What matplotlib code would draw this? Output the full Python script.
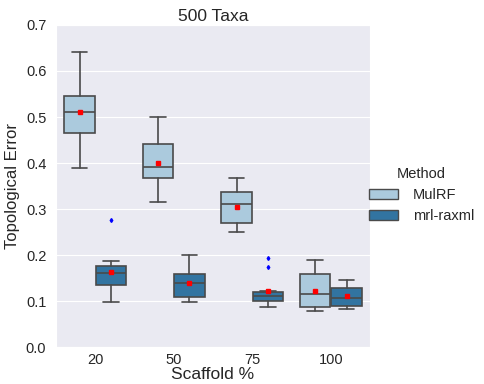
import matplotlib
matplotlib.use('Agg')
import matplotlib.pyplot as plt
import matplotlib.patches as mpatches
import seaborn as sns

# Topological error summary per scaffold level and method
SCAFFOLDS = ['20', '50', '75', '100']
METHODS = ['MulRF', 'mrl-raxml']
COLORS = ['#abcadd', '#3274a1']

# per method: one value per scaffold level
WHISLO = {'MulRF': [0.389, 0.316, 0.250, 0.078], 'mrl-raxml': [0.098, 0.098, 0.088, 0.082]}
Q1 = {'MulRF': [0.465, 0.368, 0.269, 0.088], 'mrl-raxml': [0.135, 0.109, 0.101, 0.090]}
MED = {'MulRF': [0.511, 0.392, 0.310, 0.116], 'mrl-raxml': [0.161, 0.140, 0.111, 0.107]}
Q3 = {'MulRF': [0.546, 0.442, 0.336, 0.159], 'mrl-raxml': [0.177, 0.159, 0.119, 0.129]}
WHISHI = {'MulRF': [0.642, 0.501, 0.368, 0.190], 'mrl-raxml': [0.188, 0.200, 0.121, 0.146]}
MEAN = {'MulRF': [0.511, 0.401, 0.305, 0.123], 'mrl-raxml': [0.164, 0.140, 0.121, 0.112]}
FLIERS = {'MulRF': [[], [], [], []], 'mrl-raxml': [[0.277], [], [0.194, 0.175], []]}

sns.set_style('darkgrid')
plt.rcParams['font.family'] = ['Liberation Sans', 'DejaVu Sans']

fig = plt.figure(figsize=(4.85, 3.84), dpi=100)
ax = fig.add_axes([0.1155, 0.096, 0.6475, 0.839])

edge = '#4a4a4a'
for j, m in enumerate(METHODS):
    stats = []
    for i in range(len(SCAFFOLDS)):
        stats.append({'whislo': WHISLO[m][i], 'q1': Q1[m][i], 'med': MED[m][i],
                      'q3': Q3[m][i], 'whishi': WHISHI[m][i], 'mean': MEAN[m][i],
                      'fliers': FLIERS[m][i]})
    pos = [i - 0.2 + 0.4 * j for i in range(len(SCAFFOLDS))]
    ax.bxp(stats, positions=pos, widths=0.39, patch_artist=True, showmeans=True,
           boxprops=dict(facecolor=COLORS[j], edgecolor=edge, linewidth=1.2),
           medianprops=dict(color=edge, linewidth=1.2),
           whiskerprops=dict(color=edge, linewidth=1.2),
           capprops=dict(color=edge, linewidth=1.2),
           meanprops=dict(marker='s', markerfacecolor='red', markeredgecolor='red', markersize=3),
           flierprops=dict(marker='d', markerfacecolor='blue', markeredgecolor='blue', markersize=2))

ax.set_xlim(-0.5, len(SCAFFOLDS) - 0.5)
ax.set_ylim(0, 0.7)
ax.set_xticks(range(len(SCAFFOLDS)))
ax.set_xticklabels(SCAFFOLDS)
ax.xaxis.grid(False)
ax.tick_params(labelsize=10.5, colors='#262626')
ax.tick_params(axis='x', pad=1)
ax.set_xlabel('Scaffold %', fontsize=12.5, labelpad=0)
ax.set_ylabel('Topological Error', fontsize=12)
ax.set_title('500 Taxa', fontsize=12.5, pad=3)

handles = [mpatches.Patch(facecolor=c, edgecolor=edge, label=m) for c, m in zip(COLORS, METHODS)]
leg = ax.legend(handles=handles, title='Method', loc='center left', bbox_to_anchor=(0.955, 0.472),
                frameon=False, fontsize=10.5, title_fontsize=10.5, handletextpad=1.0)

fig.savefig('out.png', dpi=100)
